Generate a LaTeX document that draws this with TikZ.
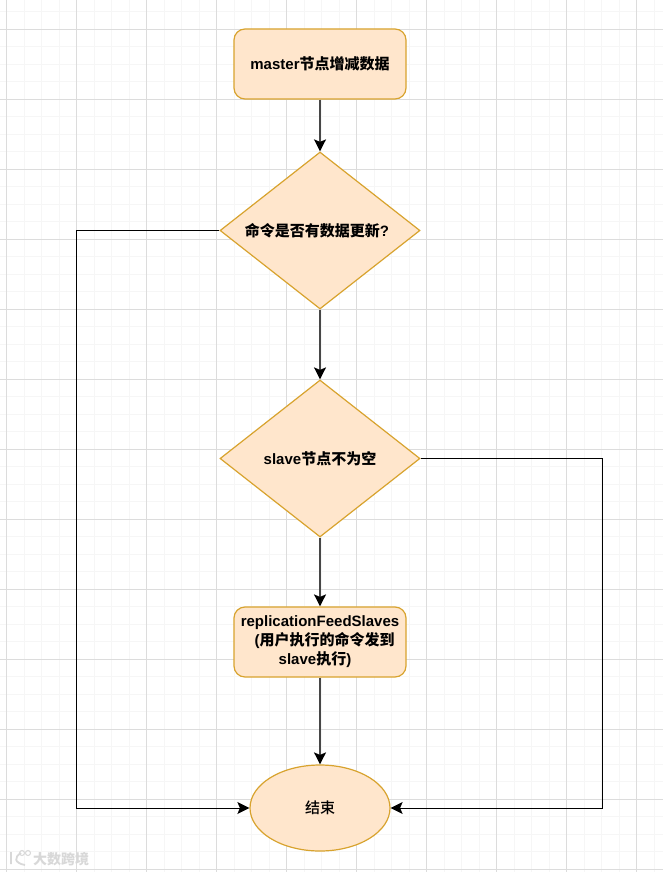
\documentclass[tikz,border=0pt]{standalone}
\usepackage{xcolor}
\usepackage{fontspec}
\usetikzlibrary{shapes.geometric,arrows.meta}
\setmainfont{Liberation Sans}
\newfontfamily\cjk{Noto Sans CJK SC}
\newfontfamily\cjkmedium{Noto Sans CJK SC Medium}
\tikzset{>=Stealth}
\definecolor{BoxFill}{HTML}{FFE6CC}
\definecolor{BoxEdge}{HTML}{D8A32E}
\definecolor{GridMajor}{HTML}{DCDCDC}
\definecolor{GridMinor}{HTML}{F6F6F6}
\definecolor{MarkGray}{HTML}{D8D8D8}
\newcommand{\boxfont}{\fontsize{15}{19}\selectfont\bfseries}
\newcommand{\zh}[1]{{\cjk #1}}
\tikzset{
  flowbox/.style={draw=BoxEdge, fill=BoxFill, line width=1.2pt, rounded corners=11pt, minimum width=172pt, minimum height=70pt, inner sep=0pt, align=center, font=\boxfont},
  askbox/.style={draw=BoxEdge, fill=BoxFill, line width=1.2pt, diamond, aspect=1.27, minimum width=200pt, minimum height=157pt, inner sep=0pt, align=center, font=\boxfont},
  endbox/.style={draw=BoxEdge, fill=BoxFill, line width=1.2pt, ellipse, minimum width=140pt, minimum height=86pt, inner sep=0pt, font=\fontsize{15}{19}\selectfont},
  link/.style={->, black!72, line width=1.5pt, >={Stealth[length=12pt,width=12pt,inset=2.5pt,black]}},
  sidelink/.style={link, black, line width=1pt}
}
\begin{document}
\begin{tikzpicture}[x=1pt,y=-1pt]
  \useasboundingbox (0,0) rectangle (663,872);
  \fill[white] (0,0) rectangle (663,872);
  % grille de fond
  \foreach \k in {0,...,37}{
    \draw[GridMinor, line width=0.8pt] ({6.4+17.5*\k},0) -- ({6.4+17.5*\k},872);
  }
  \foreach \k in {-1,...,48}{
    \draw[GridMinor, line width=0.8pt] (0,{29.3+17.5*\k}) -- (663,{29.3+17.5*\k});
  }
  \foreach \k in {0,...,9}{
    \draw[GridMajor, line width=0.8pt] ({6.4+70*\k},0) -- ({6.4+70*\k},872);
  }
  \foreach \k in {0,...,12}{
    \draw[GridMajor, line width=0.8pt] (0,{29.3+70*\k}) -- (663,{29.3+70*\k});
  }
  \node[flowbox] (master) at (320,64) {\raisebox{1.5pt}{master\zh{节点增减数据}}};
  \node[askbox] (askupdate) at (320,230.5) {\zh{命令是否有数据更新}?\hspace*{6pt}};
  \node[askbox] (askslave) at (320,458.5) {slave\zh{节点不为空}};
  \node[flowbox] (feed) at (320,642) {replicationFeedSlaves\\\hspace*{9pt}(\zh{用户执行的命令发到}\\slave\zh{执行})\hspace*{10pt}};
  \node[endbox] (done) at (320,808) {{\cjkmedium 结束}};
  \coordinate (leftturn) at (76,808);
  \coordinate (rightturn) at (602,808);
  \draw[link] (master) -- (askupdate);
  \draw[link] (askupdate) -- (askslave);
  \draw[link] (askslave) -- (feed);
  \draw[link] (feed) -- (done);
  \draw[sidelink] (askupdate.west) -- (askupdate.west -| leftturn) -- (leftturn) -- (done.west);
  \draw[sidelink] (askslave.east) -- (askslave.east -| rightturn) -- (rightturn) -- (done.east);
  % filigrane
  \draw[MarkGray, line width=1.8pt] (11,852) -- (11,864) (21,853) .. controls (14,857) and (14,863) .. (25,865);
  \draw[MarkGray, line width=1pt] (22,853) circle (2.5) (28,853) circle (2.5);
  \node[anchor=west, inner sep=0pt, font=\fontsize{14}{14}\selectfont\bfseries, text=MarkGray] (mark) at (33,859) {\zh{大数跨境}};
\end{tikzpicture}
\end{document}
